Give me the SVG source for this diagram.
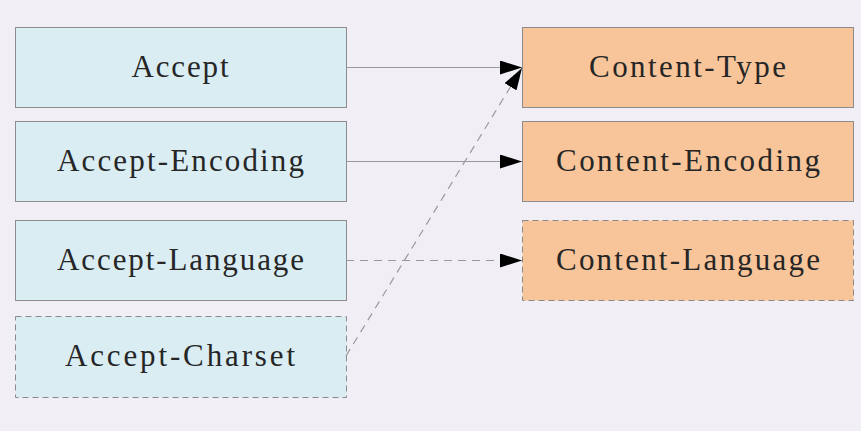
<svg xmlns="http://www.w3.org/2000/svg" width="861" height="431" viewBox="0 0 861 431">
<defs>
<style>
.bg{fill:#f1eff5}
.acc rect{fill:#daedf3;stroke:#8c8c8c;stroke-width:1}
.cnt rect{fill:#f8c59a;stroke:#8c8c8c;stroke-width:1}
.dash rect{stroke-dasharray:6 4;stroke:#8a8a8a}
text{font-family:"Liberation Serif","DejaVu Serif",serif;font-size:31px;fill:#262626;text-anchor:middle}
.edge{stroke:#999;stroke-width:1.2;fill:none}
.dashed{stroke-dasharray:8 6}
</style>
<marker id="ah" viewBox="0 0 22 14" refX="22" refY="7" markerWidth="22" markerHeight="14" markerUnits="userSpaceOnUse" orient="auto">
<path d="M0,0 L22,7 L0,14 Z" fill="#000"/>
</marker>
</defs>
<rect class="bg" x="0" y="0" width="861" height="431"/>
<g id="accept" class="acc"><rect x="15.5" y="27.5" width="331" height="80"/><text x="180" y="77" textLength="97" lengthAdjust="spacing">Accept</text></g>
<g id="accept-encoding" class="acc"><rect x="15.5" y="121.5" width="331" height="80"/><text x="180.5" y="171" textLength="247" lengthAdjust="spacing">Accept-Encoding</text></g>
<g id="accept-language" class="acc"><rect x="15.5" y="220.5" width="331" height="80"/><text x="180.5" y="270" textLength="247" lengthAdjust="spacing">Accept-Language</text></g>
<g id="accept-charset" class="acc dash"><rect x="15.5" y="316.5" width="331" height="81"/><text x="180" y="366" textLength="230" lengthAdjust="spacing">Accept-Charset</text></g>
<g id="content-type" class="cnt"><rect x="522.5" y="27.5" width="331" height="80"/><text x="687.5" y="77" textLength="197" lengthAdjust="spacing">Content-Type</text></g>
<g id="content-encoding" class="cnt"><rect x="522.5" y="121.5" width="331" height="80"/><text x="688" y="171" textLength="264" lengthAdjust="spacing">Content-Encoding</text></g>
<g id="content-language" class="cnt dash"><rect x="522.5" y="220.5" width="331" height="80"/><text x="688" y="270" textLength="264" lengthAdjust="spacing">Content-Language</text></g>
<g id="connectors">
<line class="edge" x1="346" y1="67.5" x2="522" y2="67.5" marker-end="url(#ah)"/>
<line class="edge" x1="346" y1="161.5" x2="522" y2="161.5" marker-end="url(#ah)"/>
<line class="edge dashed" x1="346" y1="260.5" x2="522" y2="260.5" marker-end="url(#ah)"/>
<line class="edge dashed" x1="346" y1="356" x2="522" y2="68" marker-end="url(#ah)"/>
</g>
</svg>
